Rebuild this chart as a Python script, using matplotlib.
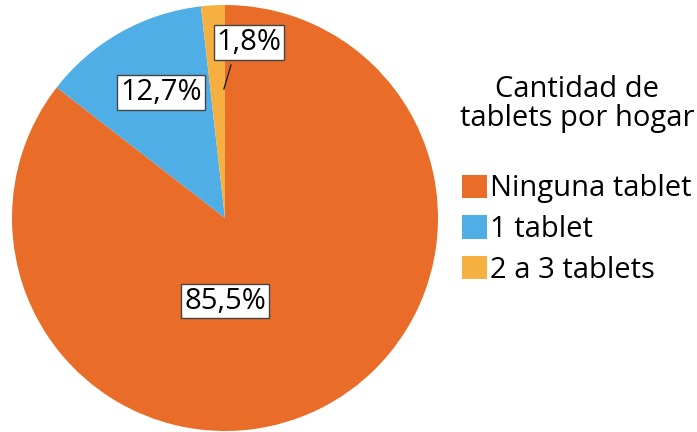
import matplotlib.pyplot as plt

plt.rcParams['font.family'] = ['Open Sans', 'DejaVu Sans']

categorias = ['Ninguna tablet', '1 tablet', '2 a 3 tablets']
porcentajes = [85.5, 12.7, 1.8]
etiquetas = ['85,5%', '12,7%', '1,8%']
colores = ['#E96C28', '#4FAEE5', '#F5B041']

fig = plt.figure(figsize=(6.97, 4.32), dpi=100)
ax = fig.add_axes([12 / 697, 1 / 432, 426 / 697, 426 / 432])

wedges, _ = ax.pie(porcentajes, colors=colores, startangle=90, counterclock=False,
                   radius=1, wedgeprops=dict(linewidth=0))
ax.set_xlim(-1, 1)
ax.set_ylim(-1, 1)
ax.set_aspect('equal')

caja = dict(boxstyle='square,pad=0.1', fc='white', ec='#444444', lw=1)
pos = [(0.0, -0.39), (-0.30, 0.59), (0.113, 0.824)]
for (x, y), t in zip(pos, etiquetas):
    ax.text(x, y, t, ha='center', va='center', fontsize=21, bbox=caja, zorder=5)
# linea guia para 1,8%
ax.plot([-0.005, 0.028], [0.606, 0.718], color='#222222', lw=1, zorder=4)

leg = fig.legend(wedges, categorias, title='Cantidad de\ntablets por hogar',
                 loc='upper left', bbox_to_anchor=(448 / 697, 1 - 63 / 432),
                 frameon=False, fontsize=21, title_fontsize=21,
                 handlelength=0.85, handleheight=0.85, handletextpad=0.1,
                 labelspacing=0.4, borderaxespad=0)
leg._legend_box.sep = 30
leg.get_title().set_multialignment('center')
leg.get_title().set_linespacing(1.0)

fig.savefig('out.png', dpi=100)
